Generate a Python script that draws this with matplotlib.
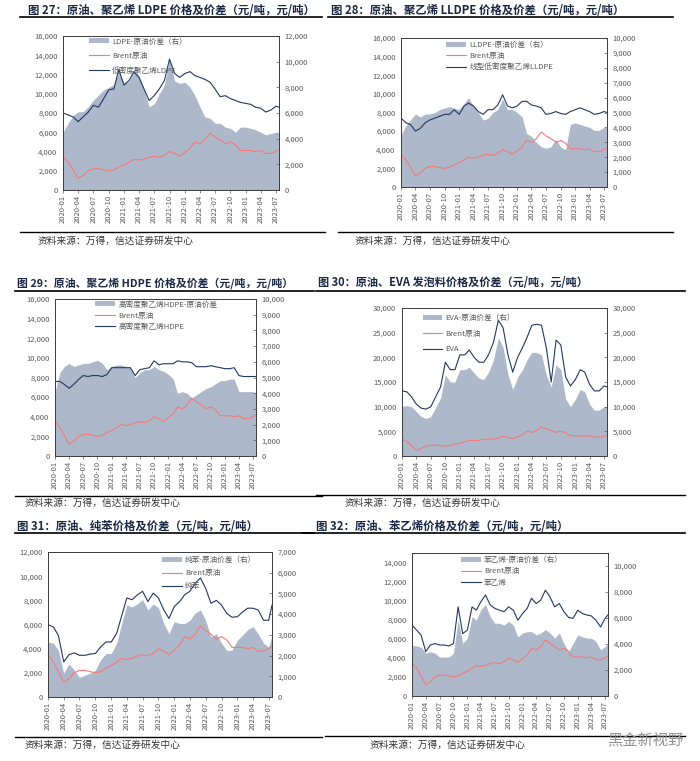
import numpy as np
import pandas as pd
import matplotlib
matplotlib.use("Agg")
import matplotlib.pyplot as plt
from matplotlib.ticker import FuncFormatter, MultipleLocator
from matplotlib.patches import Patch
from matplotlib.lines import Line2D
import matplotlib.dates as mdates

plt.rcParams['font.family'] = ['Noto Sans CJK SC', 'DejaVu Sans']

# monthly points 2020-01 .. 2023-07, plus the last reading
dates = pd.date_range("2020-01-01", "2023-07-01", freq="MS").append(pd.DatetimeIndex(["2023-07-20"]))

brent = [3500, 2900, 2100, 1200, 1500, 2000, 2200, 2200, 2100, 2000, 2100, 2400,
         2600, 2900, 3200, 3100, 3200, 3400, 3500, 3400, 3600, 4000, 3800, 3500,
         3900, 4300, 5000, 4800, 5200, 5900, 5500, 5200, 4800, 5000, 4700, 4100,
         4100, 4100, 4000, 4100, 3800, 3800, 4000, 4200]

ldpe = [8000, 7800, 7600, 7100, 7600, 8100, 8800, 8600, 9500, 10400, 10500, 12500,
        10900, 11400, 12300, 11700, 10500, 9300, 9800, 10500, 11400, 13600, 12100, 11700,
        12100, 12300, 11900, 11700, 11500, 11200, 10500, 9700, 9800, 9500, 9300, 9100,
        9000, 8900, 8600, 8500, 8100, 8300, 8700, 8600]
ldpe_spread = [4500, 5200, 5800, 6100, 6100, 6500, 7000, 7400, 7800, 8000, 8200, 9200,
               8300, 8500, 9300, 8900, 7800, 6500, 6700, 7500, 8200, 10200, 8500, 8300,
               8400, 8000, 7400, 6500, 5700, 5600, 5200, 5200, 4900, 4800, 4500, 4900,
               4900, 4800, 4700, 4500, 4300, 4400, 4500, 4500]

lldpe = [7400, 6900, 6700, 6000, 6300, 6900, 7200, 7400, 7600, 7800, 7800, 8300,
         7800, 8700, 9000, 8700, 8100, 7800, 8300, 8300, 8800, 9900, 8700, 8500,
         8700, 9200, 9200, 8800, 8700, 8500, 7800, 7900, 8100, 7900, 7800, 8100,
         8300, 8500, 8300, 8100, 7800, 7900, 8100, 8000]
lldpe_spread = [3500, 4100, 4500, 4900, 4700, 4900, 4900, 5000, 5200, 5300, 5400, 5300,
                5200, 5600, 6000, 5400, 5000, 4500, 4600, 5000, 5200, 5900, 5200, 5200,
                5000, 4700, 3600, 3400, 3000, 2700, 2600, 2700, 3200, 2700, 2500, 4200,
                4300, 4200, 4100, 4000, 3800, 3800, 4000, 4000]

hdpe = [7600, 7600, 7300, 6900, 7300, 7800, 8200, 8100, 8200, 8200, 8100, 8300,
        9000, 9000, 9000, 9000, 9000, 8200, 8800, 8900, 9000, 9700, 9300, 9400,
        9400, 9400, 9700, 9600, 9600, 9500, 9100, 9100, 9100, 9200, 9100, 9000,
        8900, 8900, 9000, 8200, 8100, 8100, 8100, 8100]
hdpe_spread = [4100, 5300, 5700, 5900, 5700, 5800, 5900, 5900, 6000, 6100, 5900, 5500,
               5700, 5800, 5800, 5700, 5600, 5000, 5300, 5500, 5500, 5700, 5500, 5400,
               5200, 4900, 4000, 4100, 4000, 3700, 3900, 4100, 4300, 4400, 4600, 4800,
               4800, 4900, 4900, 4100, 4100, 4100, 4100, 4000]

eva = [13200, 13000, 12000, 10500, 9700, 9500, 10000, 12000, 14000, 19000, 17500, 17500,
       20500, 20500, 21500, 20000, 19000, 19000, 20500, 23000, 27500, 26000, 20500, 17000,
       20000, 22000, 24000, 26500, 26700, 26500, 22000, 15000, 23500, 22500, 16000, 14200,
       15500, 17500, 17000, 14500, 13200, 13200, 14200, 14000]
eva_spread = [10100, 10200, 10000, 9000, 8000, 7600, 8000, 9800, 11800, 16500, 15000, 15000,
              17500, 17500, 18000, 16800, 15800, 15500, 17000, 19500, 24000, 22000, 16500, 13500,
              16000, 17500, 19500, 21000, 21000, 20500, 16500, 14000, 18500, 17500, 11500, 10000,
              11500, 13500, 13000, 10500, 9300, 9300, 10000, 10000]

benzene = [6000, 5800, 5100, 2900, 3500, 3650, 3450, 3450, 3550, 3600, 4150, 4550,
           4550, 5250, 6650, 8200, 8050, 8450, 8750, 7900, 8600, 8200, 7200, 6500,
           7500, 7900, 8450, 8750, 9400, 9850, 9000, 7750, 8000, 7600, 6900, 6600,
           6650, 7050, 7350, 7350, 7200, 6350, 6350, 7600]
benzene_spread = [2650, 2600, 2250, 1150, 1600, 1300, 950, 1050, 1150, 1300, 1800, 2100,
                  2100, 2600, 3500, 4450, 4350, 4500, 4700, 4200, 4500, 4300, 3550, 3050,
                  3650, 3550, 3550, 3700, 4050, 4200, 3700, 2900, 3050, 2600, 2250, 2250,
                  2750, 3000, 3250, 3400, 3050, 2600, 2400, 3000]

styrene = [7450, 6900, 6400, 4650, 5350, 5500, 5350, 5350, 5250, 5500, 9350, 6550,
           6900, 9350, 9000, 9900, 10600, 9550, 9200, 9000, 8850, 9350, 9000, 7950,
           8650, 9200, 10250, 9700, 10050, 11100, 10400, 9350, 9700, 8850, 8250, 8150,
           9000, 8650, 8500, 8400, 7950, 7250, 8150, 8500]
styrene_spread = [3900, 3850, 3750, 3300, 3400, 3300, 3000, 3000, 3000, 3300, 5850, 4050,
                  4450, 6100, 5850, 6650, 7050, 6100, 5600, 5600, 5450, 5750, 5450, 4550,
                  4850, 4950, 4950, 4700, 4850, 5100, 4850, 4450, 4850, 4050, 3400, 4050,
                  4700, 4550, 4450, 4450, 4200, 3550, 3800, 4050]

titles = ["图 27：原油、聚乙烯 LDPE 价格及价差（元/吨，元/吨）",
          "图 28：原油、聚乙烯 LLDPE 价格及价差（元/吨，元/吨）",
          "图 29：原油、聚乙烯 HDPE 价格及价差（元/吨，元/吨）",
          "图 30：原油、EVA 发泡料价格及价差（元/吨，元/吨）",
          "图 31：原油、纯苯价格及价差（元/吨，元/吨）",
          "图 32：原油、苯乙烯价格及价差（元/吨，元/吨）"]
legend_names = [["LDPE-原油价差（右）", "Brent原油", "低密度聚乙烯LDPE"],
                ["LLDPE-原油价差（右）", "Brent原油", "线型低密度聚乙烯LLDPE"],
                ["高密度聚乙烯HDPE-原油价差", "Brent原油", "高密度聚乙烯HDPE"],
                ["EVA-原油价差（右）", "Brent原油", "EVA"],
                ["纯苯-原油价差（右）", "Brent原油", "纯苯"],
                ["苯乙烯-原油价差（右）", "Brent原油", "苯乙烯"]]
source = "资料来源：万得，信达证券研发中心"

FILL = '#ADB9CA'
NAVY = '#1F3864'
RED = '#F47A7A'
GREY = '#595959'
TITLE_C = '#1A2744'

W, H = 700, 761
fig = plt.figure(figsize=(7, 7.61), dpi=100)


def rect(x0, y0, x1, y1):
    return [x0 / W, 1 - y1 / H, (x1 - x0) / W, (y1 - y0) / H]


def hline(x0, x1, y, lw=1.2):
    fig.add_artist(Line2D([x0 / W, x1 / W], [1 - y / H, 1 - y / H], color='black', lw=lw))


def thousands(v, pos):
    return f"{int(v):,}"


def draw_panel(box, price, spread, names, left_lim, left_step, right_lim, right_step,
               anchor, spacing):
    ax = fig.add_axes(rect(*box))
    ax2 = ax.twinx()
    ax2.fill_between(dates, 0, spread, color=FILL, lw=0)
    ax.plot(dates, brent, color=RED, lw=0.8)
    ax.plot(dates, price, color=NAVY, lw=0.8)
    ax.set_zorder(ax2.get_zorder() + 1)
    ax.patch.set_visible(False)

    ax.set_xlim(pd.Timestamp("2020-01-01"), pd.Timestamp("2023-07-20"))
    ax.set_ylim(0, left_lim)
    ax2.set_ylim(0, right_lim)
    ax.yaxis.set_major_locator(MultipleLocator(left_step))
    ax2.yaxis.set_major_locator(MultipleLocator(right_step))
    ax.yaxis.set_major_formatter(FuncFormatter(thousands))
    ax2.yaxis.set_major_formatter(FuncFormatter(thousands))
    ax.xaxis.set_major_locator(mdates.MonthLocator(bymonth=[1, 4, 7, 10]))
    ax.xaxis.set_major_formatter(mdates.DateFormatter('%Y-%m'))

    ax.tick_params(axis='x', labelsize=5.5, colors=GREY, rotation=90, length=2, width=0.5, pad=1.5)
    ax.tick_params(axis='y', labelsize=5.5, colors=GREY, length=0, pad=4)
    ax2.tick_params(axis='y', labelsize=5.5, colors=GREY, direction='in', length=2, width=0.5, pad=4)
    for a in (ax, ax2):
        for s in a.spines.values():
            s.set_color('#404040')
            s.set_linewidth(0.7)

    handles = [Patch(facecolor=FILL, edgecolor='none'),
               Line2D([], [], color=RED, lw=0.8),
               Line2D([], [], color=NAVY, lw=0.8)]
    leg = ax.legend(handles, names, loc='upper left', bbox_to_anchor=anchor, frameon=False,
                    fontsize=5.5, labelspacing=spacing, handlelength=2.6, handleheight=0.6,
                    handletextpad=0.4, borderaxespad=0, borderpad=0)
    for t in leg.get_texts():
        t.set_color(GREY)
    return ax


panels = [
    dict(box=(63, 36, 279, 190), price=ldpe, spread=ldpe_spread, left=(16000, 2000), right=(12000, 2000),
         anchor=(0.12, 0.99), sp=0.85),
    dict(box=(401, 38, 607, 187), price=lldpe, spread=lldpe_spread, left=(16000, 2000), right=(10000, 1000),
         anchor=(0.22, 0.98), sp=0.4),
    dict(box=(55, 299, 256, 456), price=hdpe, spread=hdpe_spread, left=(16000, 2000), right=(10000, 1000),
         anchor=(0.2, 0.99), sp=0.4),
    dict(box=(402, 308, 607, 456), price=eva, spread=eva_spread, left=(30000, 5000), right=(30000, 5000),
         anchor=(0.1, 0.96), sp=1.0),
    dict(box=(48, 552, 272, 697), price=benzene, spread=benzene_spread, left=(12000, 2000), right=(7000, 1000),
         anchor=(0.51, 0.97), sp=0.65),
    dict(box=(412, 553, 608, 696), price=styrene, spread=styrene_spread, left=(15000, 2000), right=(11000, 2000),
         anchor=(0.25, 0.98), sp=0.45),
]

for p, names in zip(panels, legend_names):
    draw_panel(p['box'], p['price'], p['spread'], names, p['left'][0], p['left'][1],
               p['right'][0], p['right'][1], p['anchor'], p['sp'])

# titles and rules
title_pos = [(28, 10), (331, 10), (17, 283), (318, 283), (17, 526), (316, 526)]
title_size = [8.2, 8.2, 7.8, 8.0, 8.2, 8.2]
for (x, y), t, fs in zip(title_pos, titles, title_size):
    fig.text(x / W, 1 - y / H, t, fontsize=fs, fontweight='bold', color=TITLE_C, va='center', ha='left')

for x0, x1, y in [(20, 322, 17), (328, 673, 17), (15, 314, 291), (316, 685, 291),
                  (15, 314, 533), (302, 685, 533)]:
    hline(x0, x1, y)

for x0, x1, y in [(20, 325, 232), (338, 673, 232), (15, 322, 496), (316, 685, 495),
                  (15, 322, 737), (325, 685, 736)]:
    hline(x0, x1, y, lw=1.0)

source_pos = [(38, 241), (355, 241), (25, 503), (345, 503), (25, 745), (370, 745)]
for x, y in source_pos:
    fig.text(x / W, 1 - y / H, source, fontsize=7, color='#333333', va='center', ha='left')

fig.text(645 / W, 1 - 741 / H, "黑金新视野", fontsize=11, color='#909090', va='center', ha='center')

fig.savefig("out.png", dpi=100)
